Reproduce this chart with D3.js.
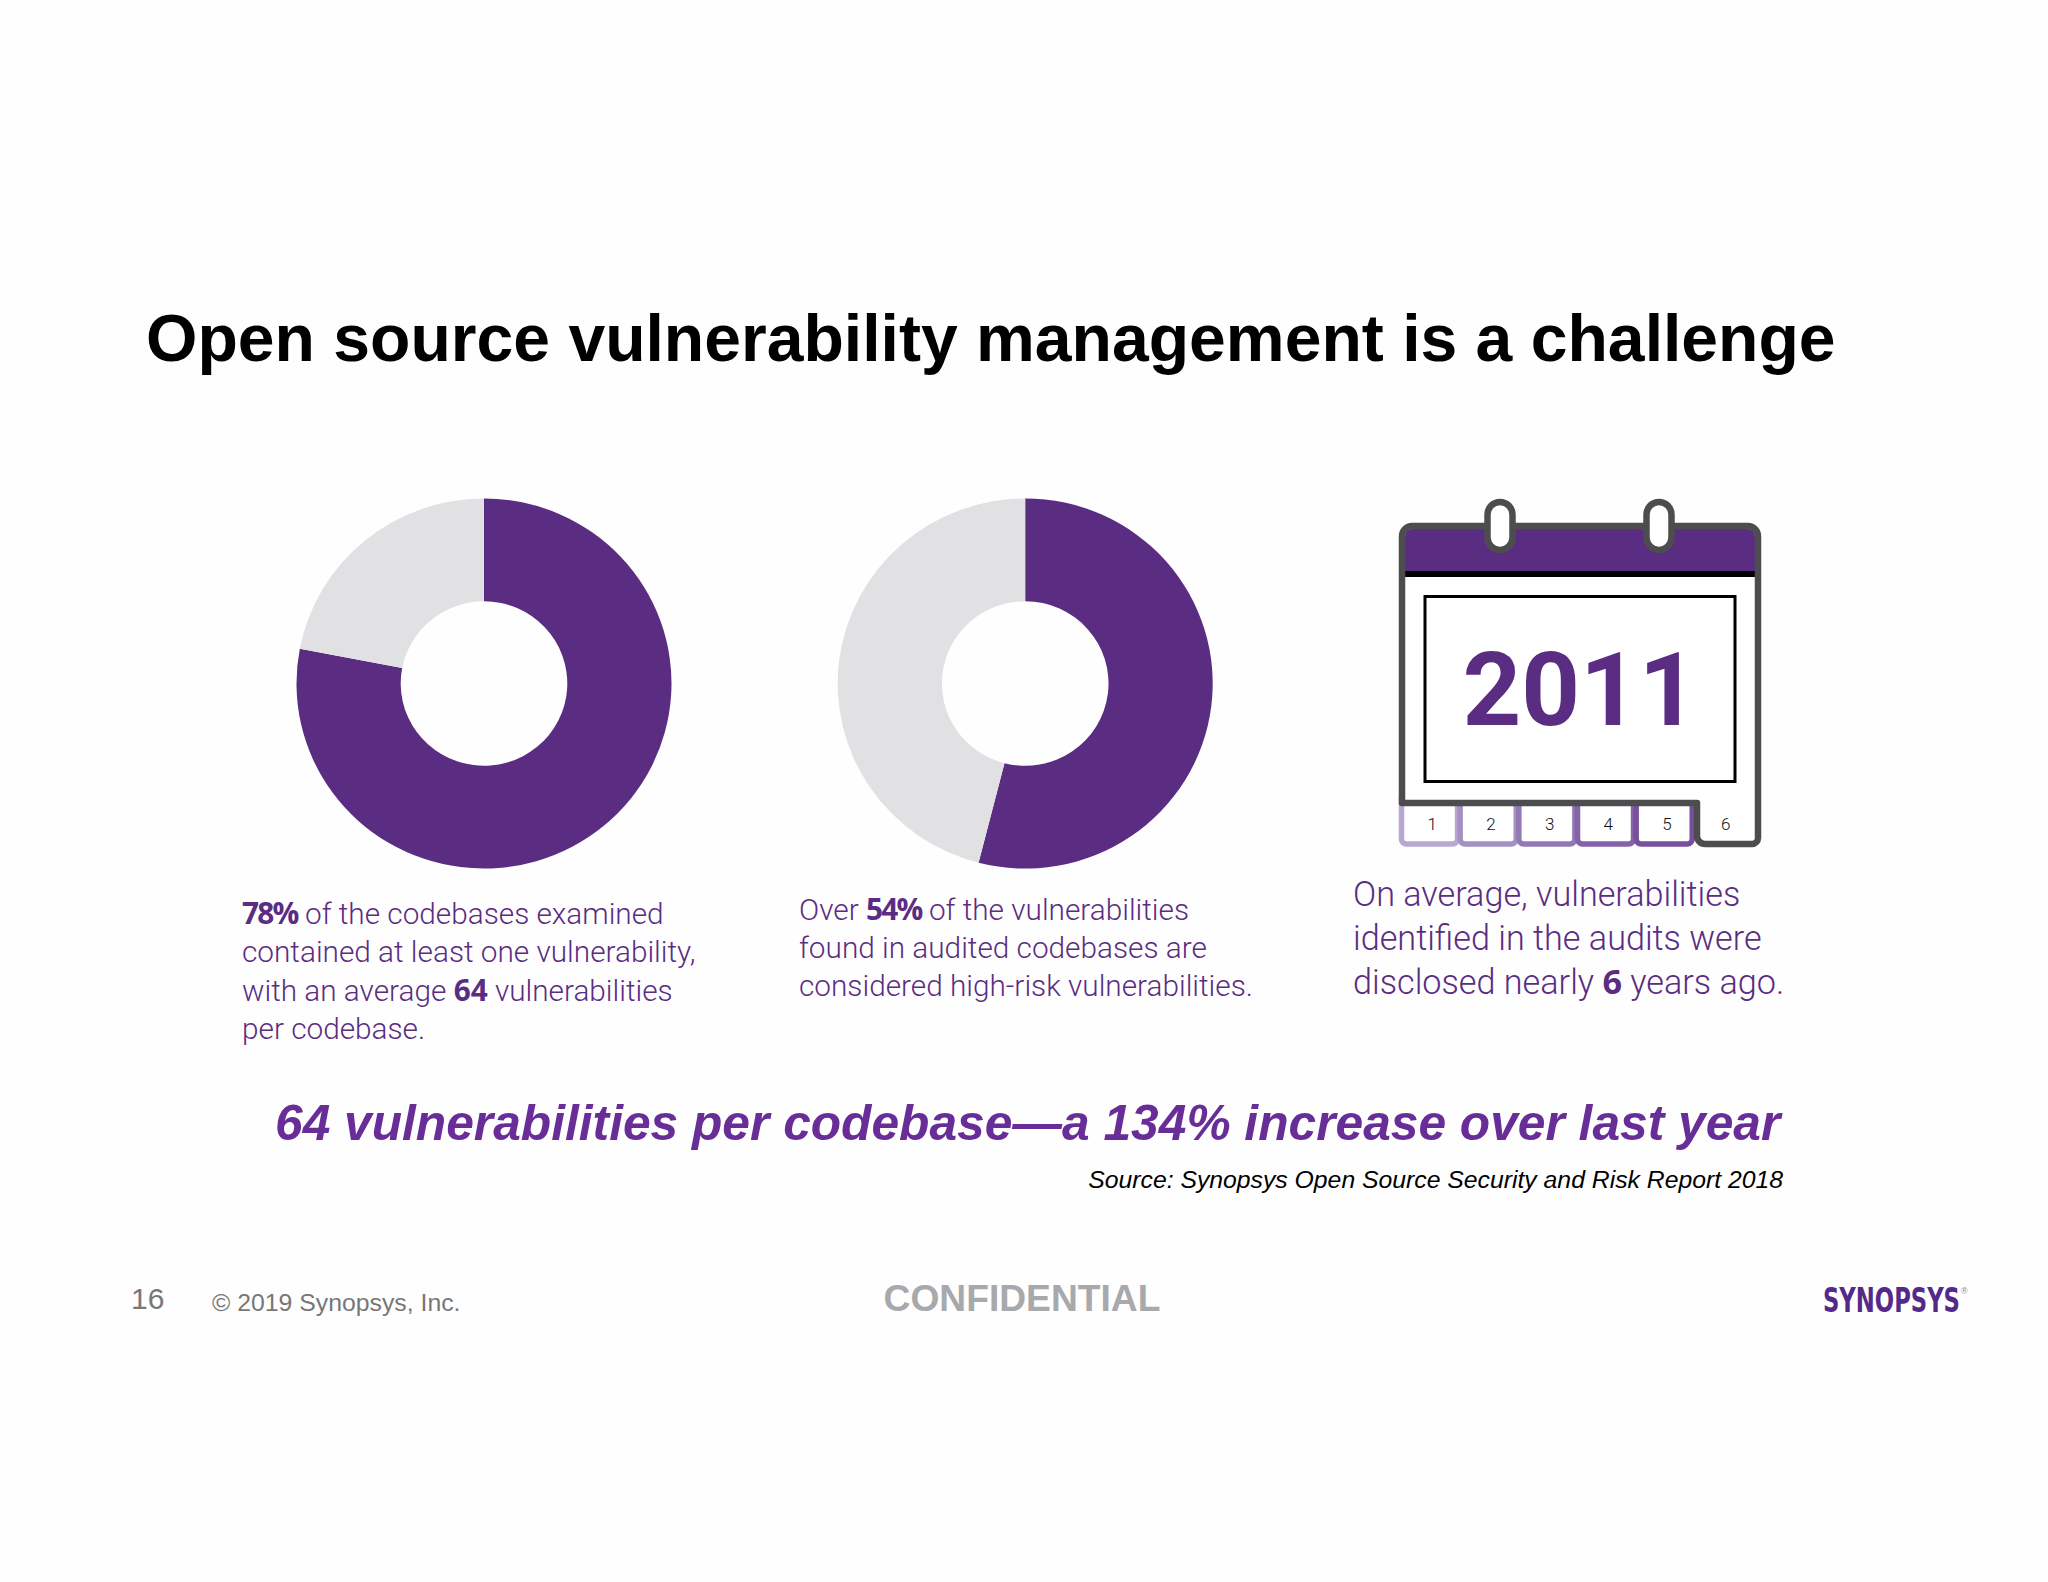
<!DOCTYPE html>
<html>
<head>
<meta charset="utf-8">
<title>Open source vulnerability management is a challenge</title>
<script src="https://cdn.jsdelivr.net/npm/d3@7"></script>
<style>
  html, body { margin: 0; padding: 0; background: #fefefe; }
  svg { display: block; }
</style>
</head>
<body>
<svg id="slide"></svg>
<script>
const codebaseShare = [78, 22];
const highRiskShare = [54, 46];
const yearsAgoTabs = ["1", "2", "3", "4", "5", "6"];
const tabColors = ["#b9a6d1", "#a590c2", "#9379b4", "#8563a8", "#78509e"];

// ** marks the bold runs
const copyOne = ["**78%** of the codebases examined", "contained at least one vulnerability,", "with an average **64** vulnerabilities", "per codebase."];
const copyTwo = ["Over **54%** of the vulnerabilities", "found in audited codebases are", "considered high-risk vulnerabilities."];
const copyThree = ["On average, vulnerabilities", "identified in the audits were", "disclosed nearly **6** years ago."];

const width = 2048;
const height = 1582;
const purple = "#5a2d82";
const grey = "#e1e1e3";
const slate = "#4d4d4f";

const svg = d3.select("#slide").attr("width", width).attr("height", height);

function addText(x, y, str, size, fill, font, weight, style, anchor) {
  return svg.append("text")
    .attr("x", x).attr("y", y)
    .attr("font-family", font)
    .attr("font-size", size)
    .attr("font-weight", weight || 400)
    .attr("font-style", style || "normal")
    .attr("text-anchor", anchor || "start")
    .attr("fill", fill)
    .text(str);
}

addText(146, 361, "Open source vulnerability management is a challenge", 66.1, "#000", "'Liberation Sans'", 700);

// donuts, the slide image is squashed a little vertically
const pie = d3.pie().sort(null);
const arc = d3.arc().innerRadius(83.3).outerRadius(187.5);
function donut(cx, cy, values) {
  svg.append("g")
    .attr("transform", `translate(${cx},${cy}) scale(1,0.987)`)
    .selectAll("path")
    .data(pie(values))
    .enter()
    .append("path")
    .attr("d", arc)
    .attr("fill", (d, i) => (i === 0 ? purple : grey));
}
donut(484, 683.5, codebaseShare);
donut(1025.2, 683.5, highRiskShare);

// paragraphs
function copyBlock(lines, x, firstBase, leading, size) {
  lines.forEach((line, i) => {
    const t = svg.append("text")
      .attr("x", x).attr("y", firstBase + i * leading)
      .attr("font-size", size)
      .attr("fill", purple);
    line.split("**").forEach((run, j) => {
      t.append("tspan")
        .attr("font-family", j % 2 ? "'Open Sans'" : "Roboto")
        .attr("font-weight", j % 2 ? 700 : 300)
        .attr("letter-spacing", run.includes("%") && j % 2 ? -1.7 : null) // % is narrower in the original
        .text(run);
    });
  });
}
copyBlock(copyOne, 242, 923.5, 38.5, 29.75);
copyBlock(copyTwo, 799, 920, 38, 29.75);
copyBlock(copyThree, 1353, 905.5, 44, 34.2);

// calendar
const cal = svg.append("g");
const tabX = d3.scaleBand().domain(yearsAgoTabs).range([1402, 1754]);
const tabTop = 803;
const tabBottom = 844;

// tabs 1-5 fade up towards the current one
cal.selectAll(".tab")
  .data(yearsAgoTabs.slice(0, 5))
  .enter()
  .append("rect")
  .attr("class", "tab")
  .attr("x", (d) => tabX(d) - 0.5)
  .attr("y", tabTop - 10)
  .attr("width", tabX.bandwidth() - 2.6)
  .attr("height", tabBottom - tabTop + 10)
  .attr("rx", 5)
  .attr("fill", "#fff")
  .attr("stroke", (d, i) => tabColors[i])
  .attr("stroke-width", 5.5);

const bodyPath = d3.path();
bodyPath.moveTo(1402, 803);
bodyPath.lineTo(1402, 536);
bodyPath.arcTo(1402, 526, 1412, 526, 10);
bodyPath.lineTo(1748, 526);
bodyPath.arcTo(1758, 526, 1758, 536, 10);
bodyPath.lineTo(1758, 838);
bodyPath.arcTo(1758, 844, 1752, 844, 6);
bodyPath.lineTo(1705, 844);
bodyPath.arcTo(1697, 844, 1697, 836, 8);
bodyPath.lineTo(1697, 803);
bodyPath.closePath();

cal.append("path").attr("d", bodyPath.toString()).attr("fill", "#fff");
cal.append("path")
  .attr("d", "M1405 571V536A7 7 0 0 1 1412 529H1748A7 7 0 0 1 1755 536V571Z")
  .attr("fill", purple);
cal.append("rect").attr("x", 1405).attr("y", 571).attr("width", 350).attr("height", 6).attr("fill", "#000");
cal.append("path")
  .attr("d", bodyPath.toString())
  .attr("fill", "none")
  .attr("stroke", slate)
  .attr("stroke-width", 6.5)
  .attr("stroke-linejoin", "round");
cal.append("rect")
  .attr("x", 1425).attr("y", 596.5).attr("width", 310).attr("height", 185)
  .attr("fill", "#fff").attr("stroke", "#000").attr("stroke-width", 3);

[1500, 1659].forEach((cx) => {
  cal.append("rect")
    .attr("x", cx - 12.5).attr("y", 502).attr("width", 25).attr("height", 48)
    .attr("rx", 12.5)
    .attr("fill", "#fff").attr("stroke", slate).attr("stroke-width", 6.5);
});

addText(1580, 725, "2011", 102.5, purple, "Roboto", 700, "normal", "middle");

cal.selectAll(".tabLabel")
  .data(yearsAgoTabs)
  .enter()
  .append("text")
  .attr("class", "tabLabel")
  .attr("x", (d) => tabX(d) + tabX.bandwidth() / 2 + 1)
  .attr("y", 830)
  .attr("text-anchor", "middle")
  .attr("font-family", "Roboto")
  .attr("font-weight", 300)
  .attr("font-size", 17)
  .attr("fill", "#111")
  .text((d) => d);

addText(275, 1139.5, "64 vulnerabilities per codebase\u2014a 134% increase over last year", 49.7, "#692d98", "'Liberation Sans'", 700, "italic");
addText(1783, 1188, "Source: Synopsys Open Source Security and Risk Report 2018", 24.75, "#000", "'Liberation Sans'", 400, "italic", "end");

addText(131, 1309, "16", 30, "#777", "'Liberation Sans'");
addText(212, 1311, "\u00a9 2019 Synopsys, Inc.", 24.8, "#777", "'Liberation Sans'");
addText(1022, 1311, "CONFIDENTIAL", 37.2, "#a7a9ac", "'Liberation Sans'", 700, "normal", "middle");
addText(1823, 1312, "SYNOPSYS", 34, "#55298a", "'DejaVu Sans Condensed'", 700)
  .attr("textLength", 137).attr("lengthAdjust", "spacingAndGlyphs");
addText(1961, 1294, "\u00ae", 9, "#8a8a96", "'Liberation Sans'");
</script>
</body>
</html>
